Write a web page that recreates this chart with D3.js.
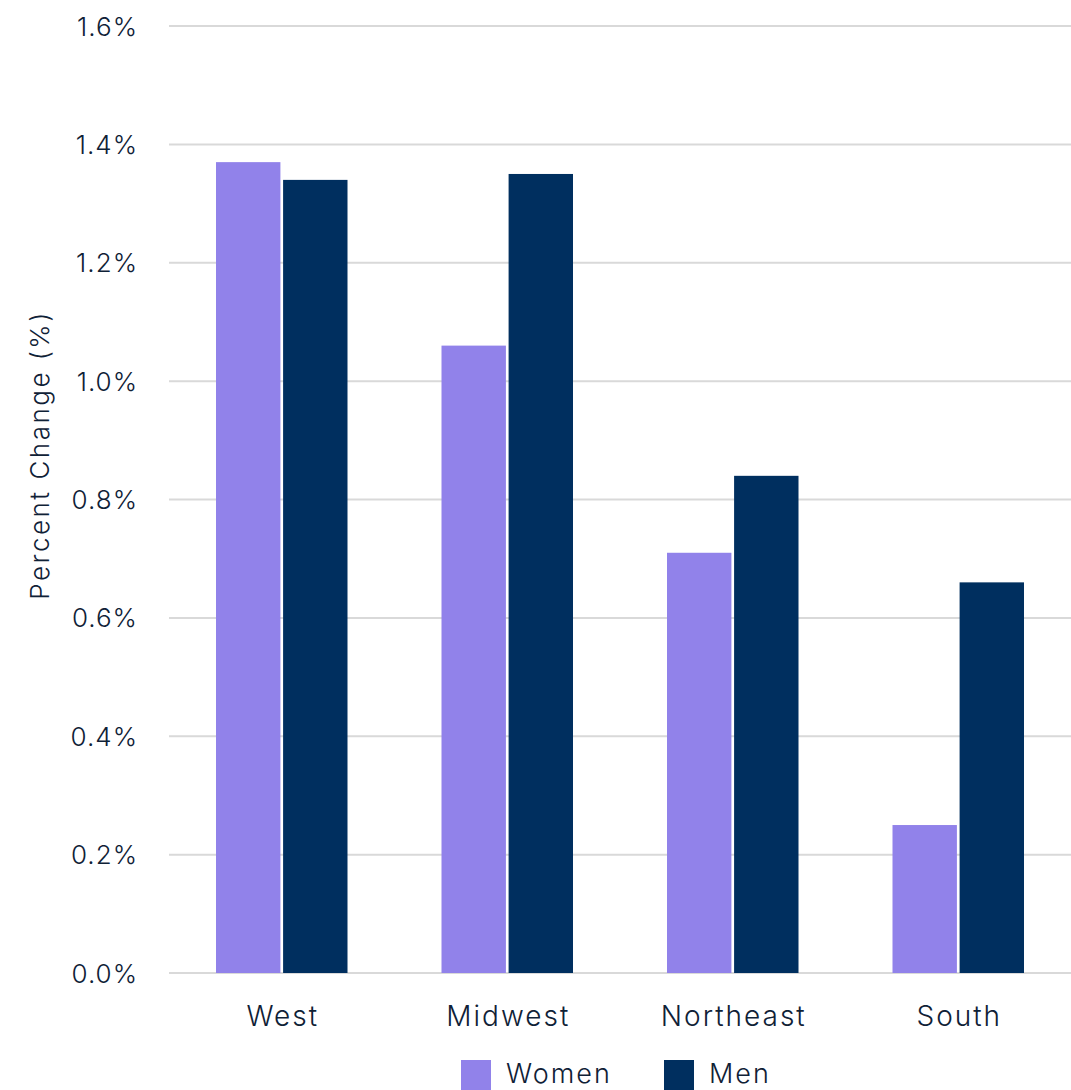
<!DOCTYPE html>
<html><head><meta charset="utf-8">
<script src="https://cdn.jsdelivr.net/npm/d3@7"></script>
<style>body{margin:0;background:#fff}svg{display:block}text{font-family:Inter,"Open Sans",sans-serif;fill:#0f2136;font-weight:350}</style>
</head><body><svg id="c" width="1071" height="1090"></svg>
<script>
const categories = ["West","Midwest","Northeast","South"];
const seriesNames = ["Women","Men"];
const women = [1.37,1.06,0.71,0.25];
const men = [1.34,1.35,0.84,0.66];
const yTicks = [0,0.2,0.4,0.6,0.8,1.0,1.2,1.4,1.6];
const colors = ["#9182EA","#002F5F"];

(function(){
const svg = d3.select("#c");
const pLeft=169, pRight=1071, pTop=26, pBottom=973;
const x = d3.scaleBand().domain(categories).range([pLeft,pRight]).paddingInner(0).paddingOuter(0);
const y = d3.scaleLinear().domain([0,1.6]).range([pBottom,pTop]);
const inner = d3.scaleBand().domain(seriesNames).range([47, x.bandwidth()-47]).paddingInner(0.04);

svg.append("g").selectAll("line").data(yTicks).join("line")
  .attr("x1",pLeft).attr("x2",pRight).attr("y1",d=>y(d)).attr("y2",d=>y(d))
  .attr("stroke","#d9d9d9").attr("stroke-width",2);

const yAxis = d3.axisLeft(y).tickValues(yTicks).tickFormat(d=>d.toFixed(1)+"%").tickSize(0).tickPadding(0);
const ya = svg.append("g").attr("transform",`translate(138,0)`).call(yAxis);
ya.select(".domain").remove();
ya.selectAll("text").style("font-size","26px").style("font-family","Inter, sans-serif").style("font-weight","350")
  .style("letter-spacing","1px").attr("fill","#0f2136").attr("dy","0.35em");

const data = categories.map((c,i)=>({c, vals:[women[i],men[i]]}));
const g = svg.append("g");
data.forEach(d=>{
  g.selectAll(null).data(seriesNames.map((s,j)=>({s,v:d.vals[j],j}))).join("rect")
    .attr("x",e=>x(d.c)+inner(e.s)).attr("width",inner.bandwidth())
    .attr("y",e=>y(e.v)).attr("height",e=>y(0)-y(e.v))
    .attr("fill",e=>colors[e.j]);
});

const xAxis = d3.axisBottom(x).tickSize(0).tickPadding(0);
const xa = svg.append("g").attr("transform",`translate(1,1016)`).call(xAxis);
xa.select(".domain").remove();
xa.selectAll("text").style("font-size","28px").style("font-family","Inter, sans-serif").style("font-weight","350")
  .style("letter-spacing","2px").attr("fill","#0f2136").attr("dy","0.35em").attr("y",0);

svg.append("text").attr("transform","translate(40,455) rotate(-90)")
  .attr("text-anchor","middle").attr("dy","0.35em").style("font-size","26px").style("letter-spacing","2.5px").text("Percent Change (%)");

const leg = svg.append("g");
const legX = [461,664];
seriesNames.forEach((s,i)=>{
  leg.append("rect").attr("x",legX[i]).attr("y",1060).attr("width",30).attr("height",30).attr("fill",colors[i]);
  leg.append("text").attr("x",legX[i]+45).attr("y",1074).attr("dy","0.35em").style("font-size","27px").style("letter-spacing","2px").text(s);
});
})();
</script></body></html>
